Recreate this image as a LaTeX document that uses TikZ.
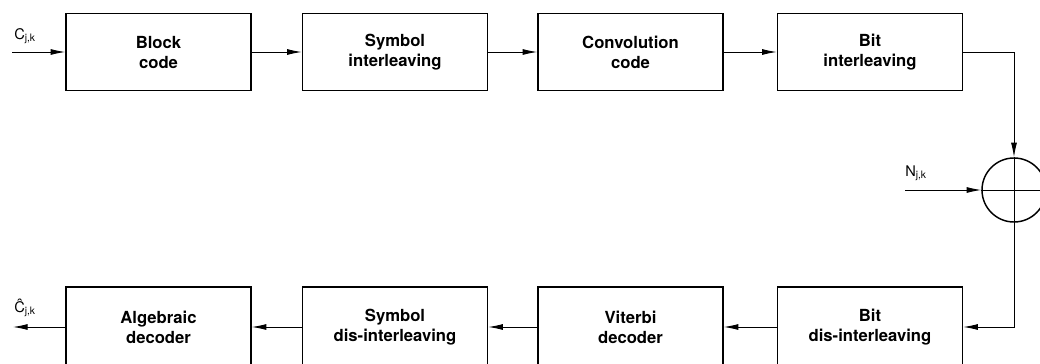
\documentclass[tikz,border=0pt]{standalone}
\usepackage{fontspec}
\setmainfont{TeX Gyre Heros}
\usetikzlibrary{arrows.meta}
\begin{document}
\begin{tikzpicture}[x=0.75pt,y=-0.75pt,
  blk/.style={draw,line width=1.1pt,minimum width=138.75pt,minimum height=58pt,align=center,font=\bfseries\fontsize{12.5}{15}\selectfont,inner sep=0pt},
  conn/.style={line width=0.7pt,-{Latex[length=11pt,width=4.5pt]}},
  lbl/.style={font=\fontsize{11}{12}\selectfont,inner sep=0pt}]
\useasboundingbox (0,0) rectangle (1040,364);
% top row
\node[blk] (b1) at (158.5,52) {Block\\code};
\node[blk] (b2) at (395,52) {Symbol\\interleaving};
\node[blk] (b3) at (630.5,52) {Convolution\\code};
\node[blk] (b4) at (870,52) {Bit\\interleaving};
% bottom row
\node[blk,minimum height=60pt] (d1) at (158.5,327) {Algebraic\\decoder};
\node[blk,minimum height=60pt] (d2) at (395,327) {Symbol\\dis-interleaving};
\node[blk,minimum height=60pt] (d3) at (630.5,327) {Viterbi\\decoder};
\node[blk,minimum height=60pt] (d4) at (870,327) {Bit\\dis-interleaving};
% adder
\node[draw,circle,line width=1.1pt,minimum size=48pt,inner sep=0pt] (sum) at (1014,190) {};
\draw[line width=0.7pt] (sum.north) -- (sum.south) (sum.west) -- (sum.east);
% inputs / outputs
\coordinate (cin) at (12,52);
\coordinate (nin) at (905,190);
\coordinate (cout) at (13,327);
\node[lbl,anchor=south west] (lc) at (14,44) {C\textsubscript{j,k}};
\node[lbl,anchor=south west] (ln) at (905,181) {N\textsubscript{j,k}};
\node[lbl,anchor=south west] (lo) at (14,317) {Ĉ\textsubscript{j,k}};
% connectors
\draw[conn] (cin) -- (b1.west);
\draw[conn] (b1.east) -- (b2.west);
\draw[conn] (b2.east) -- (b3.west);
\draw[conn] (b3.east) -- (b4.west);
\draw[conn] (b4.east) -| (sum.north);
\draw[conn] (nin) -- (sum.west);
\draw[conn] (sum.south) |- (d4.east);
\draw[conn] (d4.west) -- (d3.east);
\draw[conn] (d3.west) -- (d2.east);
\draw[conn] (d2.west) -- (d1.east);
\draw[conn] (d1.west) -- (cout);
\end{tikzpicture}
\end{document}
